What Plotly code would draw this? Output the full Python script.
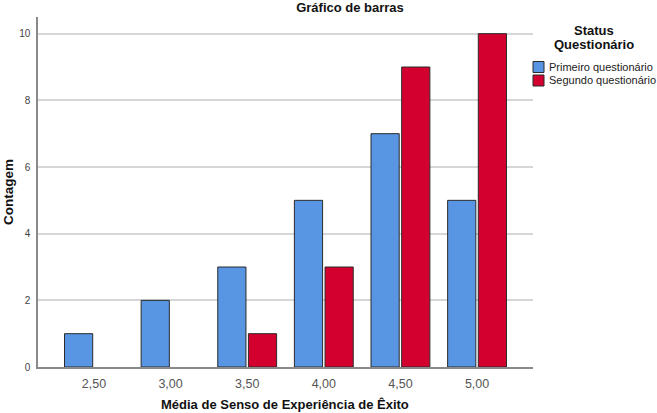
import plotly.graph_objects as go

categories = ["2,50", "3,00", "3,50", "4,00", "4,50", "5,00"]
primeiro = [1, 2, 3, 5, 7, 5]
segundo = [None, None, 1, 3, 9, 10]
series_names = ["Primeiro questionário", "Segundo questionário"]
y_ticks = [0, 2, 4, 6, 8, 10]

BLUE = "#5895E2"
RED = "#D3002F"
OUTLINE = "#2b2b2b"
W, H = 657, 413
L, R, T, B = 38, 124, 17, 46
PW, PH = W - L - R, H - T - B


def px_x(x):
    return (x - L) / PW


def px_y(y):
    return (H - B - y) / PH


fig = go.Figure()
fig.add_trace(go.Bar(x=categories, y=primeiro, name=series_names[0],
                     marker=dict(color=BLUE, line=dict(color=OUTLINE, width=1))))
fig.add_trace(go.Bar(x=categories, y=segundo, name=series_names[1],
                     marker=dict(color=RED, line=dict(color=OUTLINE, width=1))))

fig.update_layout(
    width=W, height=H,
    margin=dict(l=L, r=R, t=T, b=B, pad=0, autoexpand=False),
    paper_bgcolor="white", plot_bgcolor="white",
    barmode="group", bargap=0.2, bargroupgap=0.08,
    showlegend=False,
    font=dict(family="Liberation Sans, Arial, sans-serif", color="#222"),
    title=dict(text="<b>Gráfico de barras</b>", x=350 / W, xanchor="center",
               xref="container", y=1 - 7 / H, yanchor="middle",
               font=dict(size=13, color="#111")),
    xaxis=dict(
        type="category", range=[-0.73, 5.73], automargin=False,
        showline=True, linecolor="#8a8a8a", linewidth=1.5,
        showgrid=False, ticks="", ticklabelstandoff=4,
        tickfont=dict(size=12.5, color="#555"),
        fixedrange=True,
    ),
    yaxis=dict(
        range=[0, 10.5], tickvals=y_ticks, automargin=False,
        showline=True, linecolor="#8a8a8a", linewidth=1.5,
        showgrid=True, gridcolor="#d6d6d6", gridwidth=1.5,
        zeroline=False, ticks="", ticklabelstandoff=4,
        tickfont=dict(size=10, color="#444"),
        fixedrange=True,
    ),
)

# Axis titles
fig.add_annotation(text="<b>Média de Senso de Experiência de Êxito</b>",
                   xref="paper", yref="paper", x=px_x(285), y=px_y(404.5),
                   xanchor="center", yanchor="middle", showarrow=False,
                   font=dict(size=13, color="#111"))
fig.add_annotation(text="<b>Contagem</b>", textangle=-90,
                   xref="paper", yref="paper", x=px_x(8), y=px_y(192),
                   xanchor="center", yanchor="middle", showarrow=False,
                   font=dict(size=13.5, color="#111"))

# Legend title
fig.add_annotation(text="<b>Status</b>", xref="paper", yref="paper",
                   x=px_x(594), y=px_y(30),
                   xanchor="center", yanchor="middle", showarrow=False,
                   font=dict(size=13, color="#111"))
fig.add_annotation(text="<b>Questionário</b>", xref="paper", yref="paper",
                   x=px_x(594), y=px_y(44),
                   xanchor="center", yanchor="middle", showarrow=False,
                   font=dict(size=13, color="#111"))

# Legend entries
colors = [BLUE, RED]
for i, (name, col) in enumerate(zip(series_names, colors)):
    yc = 67 + 13.5 * i
    fig.add_shape(type="rect", xref="paper", yref="paper",
                  x0=px_x(533), x1=px_x(544),
                  y0=px_y(yc + 5.5), y1=px_y(yc - 5.5),
                  fillcolor=col, line=dict(color=OUTLINE, width=1))
    fig.add_annotation(text=name, xref="paper", yref="paper",
                       x=px_x(547), y=px_y(yc),
                       xanchor="left", yanchor="middle", showarrow=False,
                       font=dict(size=11, color="#222"))

fig.write_html("out.html", config=dict(displayModeBar=False))
